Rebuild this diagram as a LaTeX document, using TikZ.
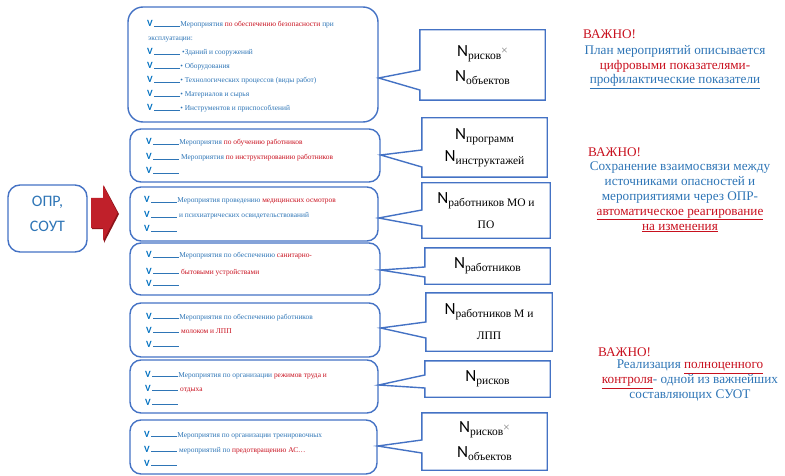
\documentclass[tikz,border=0pt]{standalone}
\usepackage{fontspec}
\setmainfont{Liberation Serif}
\newfontfamily\calfont{Carlito}
\definecolor{bordblue}{RGB}{68,114,196}
\definecolor{tblue}{RGB}{46,117,182}
\definecolor{vblue}{RGB}{0,112,192}
\definecolor{tred}{RGB}{200,16,30}
\definecolor{arrred}{RGB}{192,32,42}
\definecolor{arrdark}{RGB}{140,20,26}
\newcommand\sz[2]{\fontsize{#1}{#2}\selectfont}
\newcommand\Vm{{\color{vblue}\calfont\bfseries\sz{9.5}{10}V}}
\newcommand\bl{\hspace{1.5pt}{\color{tblue}\rule[0pt]{26pt}{0.7pt}}}
\newcommand\tb[1]{\textcolor{tblue}{#1}}
\newcommand\tr[1]{\textcolor{tred}{#1}}
\newcommand\Nn[1]{N\raisebox{-3pt}{\rmfamily\sz{11.5}{12}#1}}
\newcommand\tms{\raisebox{1.5pt}{\color{gray}\rmfamily\sz{12}{12}×}}
\newcommand\ulc[1]{\underline{#1}}
\begin{document}
\begin{tikzpicture}[x=1pt,y=-1pt,
  lbox/.style={draw=bordblue, line width=1.4pt, rounded corners=11pt, inner sep=0pt},
  ltxt/.style={anchor=base west, inner sep=0pt, font=\rmfamily\sz{7.4}{8}},
  rtxt/.style={inner sep=0pt, align=center, font=\calfont\sz{17}{25}},
  callout/.style={draw=bordblue, line width=1.4pt, line join=miter},
  note/.style={inner sep=0pt, align=center, font=\rmfamily\sz{13.2}{14.8}},
  notehead/.style={anchor=base west, inner sep=0pt, font=\rmfamily\sz{13.2}{14.8}, text=tred}]
\useasboundingbox (0,0) rectangle (785,476);

% source box and arrow
\node[lbox, rounded corners=12pt, minimum width=79, minimum height=67] (src) at (47.5,218.5) {};
\node[inner sep=0pt, align=center, font=\calfont\sz{16}{25}, text=tblue] (srct) at (47.5,214) {ОПР,\\СОУТ};
\fill[arrdark] (92,199) -- (104,199) -- (104,186) -- (119,214) -- (104,243) -- (104,229) -- (92,229) -- cycle;
\fill[arrred] (91,198) -- (103,198) -- (103,185) -- (117.5,213) -- (103,241) -- (103,228) -- (91,228) -- cycle;

% left boxes
\node[lbox, rounded corners=15pt, minimum width=250, minimum height=115] (b1) at (253,64.5) {};
\node[lbox, minimum width=250, minimum height=53] (b2) at (255,155.5) {};
\node[lbox, minimum width=248, minimum height=54] (b3) at (254,214) {};
\node[lbox, minimum width=250, minimum height=52] (b4) at (255,269) {};
\node[lbox, minimum width=250, minimum height=54] (b5) at (255,330) {};
\node[lbox, minimum width=248, minimum height=53] (b6) at (254,386.5) {};
\node[lbox, minimum width=247, minimum height=54] (b7) at (253.5,447) {};

% box 1 text
\node[ltxt] (t11) at (147,27) {\Vm\bl\tb{Мероприятия}\ \tr{по обеспечению безопасности}\ \tb{при}};
\node[ltxt] (t12) at (148,41) {\tb{эксплуатации:}};
\node[ltxt] (t13) at (147,55) {\Vm\bl\ \tb{•Зданий и сооружений}};
\node[ltxt] (t14) at (147,69) {\Vm\bl\tb{•}\ \tb{Оборудования}};
\node[ltxt] (t15) at (147,83) {\Vm\bl\tb{•}\ \tb{Технологических процессов (виды работ)}};
\node[ltxt] (t16) at (147,97) {\Vm\bl\tb{•}\ \tb{Материалов и сырья}};
\node[ltxt] (t17) at (147,111) {\Vm\bl\tb{•}\ \tb{Инструментов и приспособлений}};
% box 2
\node[ltxt] (t21) at (146,145) {\Vm\bl\tb{Мероприятия}\ \tr{по обучению работников}};
\node[ltxt] (t22) at (146,160) {\Vm\bl\ \tb{Мероприятия}\ \tr{по инструктированию работников}};
\node[ltxt] (t23) at (146,174) {\Vm\bl};
% box 3
\node[ltxt] (t31) at (144,203) {\Vm\bl\tb{Мероприятия проведению}\ \tr{медицинских осмотров}};
\node[ltxt] (t32) at (144,218) {\Vm\bl\ \tb{и психиатрических освидетельствований}};
\node[ltxt] (t33) at (144,232) {\Vm\bl};
% box 4
\node[ltxt] (t41) at (146,258) {\Vm\bl\tb{Мероприятия по обеспечению}\ \tr{санитарно-}};
\node[ltxt] (t42) at (146,274) {\Vm\bl\ \tr{бытовыми устройствами}};
\node[ltxt] (t43) at (146,286) {\Vm\bl};
% box 5
\node[ltxt] (t51) at (146,319) {\Vm\bl\tb{Мероприятия по обеспечению работников}};
\node[ltxt] (t52) at (146,333) {\Vm\bl\ \tr{молоком и ЛПП}};
\node[ltxt] (t53) at (146,347) {\Vm\bl};
% box 6
\node[ltxt] (t61) at (145,377) {\Vm\bl\tb{Мероприятия по организации}\ \tr{режимов труда и}};
\node[ltxt] (t62) at (145,391) {\Vm\bl\ \tr{отдыха}};
\node[ltxt] (t63) at (145,405) {\Vm\bl};
% box 7
\node[ltxt] (t71) at (144,437) {\Vm\bl\tb{Мероприятия по организации тренировочных}};
\node[ltxt] (t72) at (144,452) {\Vm\bl\ \tb{мероприятий по}\ \tr{предотвращению АС…}};
\node[ltxt] (t73) at (144,466) {\Vm\bl};

% right callout boxes
\node[rtxt, minimum width=125, minimum height=70] (r1) at (482.5,65) {\Nn{рисков}\tms\\\Nn{объектов}};
\node[rtxt, minimum width=125, minimum height=59] (r2) at (484.5,147.5) {\Nn{программ}\\[-3pt]\Nn{инструктажей}};
\node[rtxt, minimum width=128, minimum height=55] (r3) at (486,210.5) {\Nn{работников МО и}\\{\rmfamily\sz{11.5}{12}ПО}};
\node[rtxt, minimum width=125, minimum height=36] (r4) at (487.5,266) {\Nn{работников}};
\node[rtxt, minimum width=126, minimum height=58] (r5) at (489,322) {\Nn{работников М и}\\{\rmfamily\sz{11.5}{12}ЛПП}};
\node[rtxt, minimum width=125, minimum height=36] (r6) at (487.5,379) {\Nn{рисков}};
\node[rtxt, minimum width=125, minimum height=57] (r7) at (484.5,441.5) {\Nn{рисков}\tms\\\Nn{объектов}};

\draw[callout] (r1.north west) -- (r1.north east) -- (r1.south east) -- (r1.south west) -- (r1.west |- 0,90) -- (b1.east |- 0,78) -- (r1.west |- 0,70) -- cycle;
\draw[callout] (r2.north west) -- (r2.north east) -- (r2.south east) -- (r2.south west) -- (r2.west |- 0,167) -- (b2.east |- 0,155) -- (r2.west |- 0,150) -- cycle;
\draw[callout] (r3.north west) -- (r3.north east) -- (r3.south east) -- (r3.south west) -- (r3.west |- 0,226) -- (b3.east |- 0,218) -- (r3.west |- 0,210) -- cycle;
\draw[callout] (r4.north west) -- (r4.north east) -- (r4.south east) -- (r4.south west) -- (r4.west |- 0,277) -- (b4.east |- 0,270) -- (r4.west |- 0,267) -- cycle;
\draw[callout] (r5.north west) -- (r5.north east) -- (r5.south east) -- (r5.south west) -- (r5.west |- 0,338) -- (b5.east |- 0,328) -- (r5.west |- 0,322) -- cycle;
\draw[callout] (r6.north west) -- (r6.north east) -- (r6.south east) -- (r6.south west) -- (r6.west |- 0,388) -- (b6.east |- 0,385) -- (r6.west |- 0,375) -- cycle;
\draw[callout] (r7.north west) -- (r7.north east) -- (r7.south east) -- (r7.south west) -- (r7.west |- 0,453) -- (b7.east |- 0,446) -- (r7.west |- 0,440) -- cycle;

% notes
\node[notehead] (h1) at (583,39) {ВАЖНО!};
\node[note, anchor=north] (n1) at (675,45) {\tb{План мероприятий описывается}\\\tr{цифровыми показателями-}\\\textcolor{tblue}{\ulc{профилактические показатели}}};
\node[notehead] (h2) at (588,157) {ВАЖНО!};
\node[note, anchor=north] (n2) at (680,162) {\tb{Сохранение взаимосвязи между}\\\tb{источниками опасностей и}\\\tb{мероприятиями через ОПР-}\\\textcolor{tred}{\ulc{автоматическое реагирование}}\\\textcolor{tred}{\ulc{на изменения}}};
\node[notehead] (h3) at (598,356) {ВАЖНО!};
\node[note, anchor=north] (n3) at (690,360) {\tb{Реализация}\ \textcolor{tred}{\ulc{полноценного}}\\\textcolor{tred}{\ulc{контроля}}\tb{- одной из важнейших}\\\tb{составляющих СУОТ}};
\end{tikzpicture}
\end{document}
